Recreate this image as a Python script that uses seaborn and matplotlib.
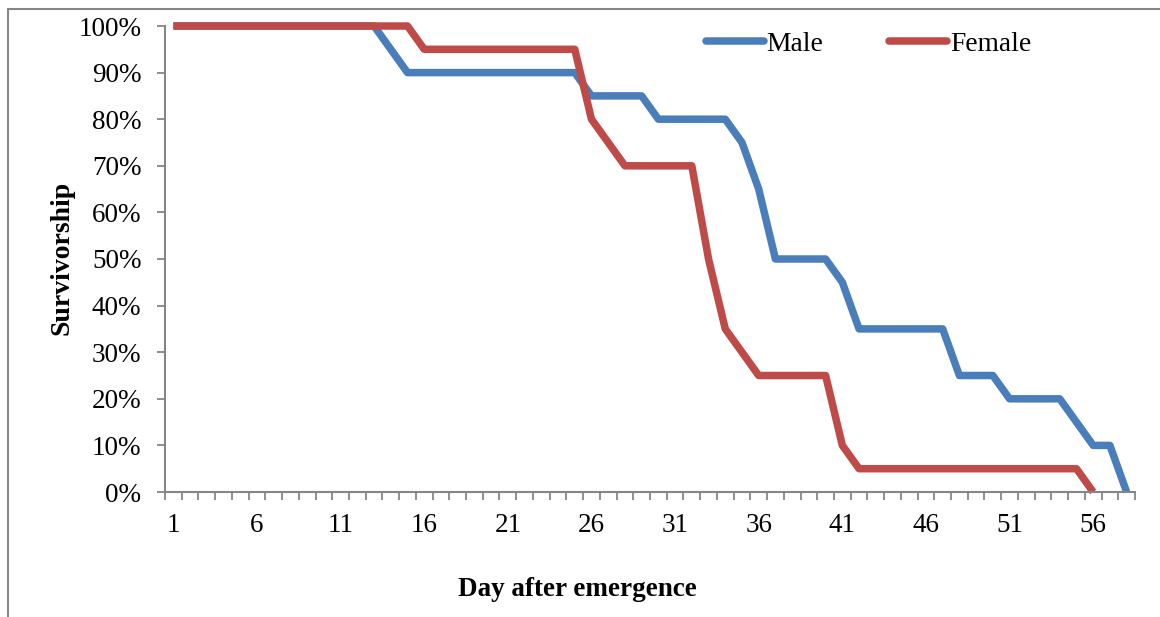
import numpy as np
import pandas as pd
import matplotlib
matplotlib.use("Agg")
import matplotlib.pyplot as plt
import seaborn as sns
from matplotlib.ticker import FixedLocator, PercentFormatter
from matplotlib.lines import Line2D
from matplotlib.patches import Rectangle

# Survivorship by day after emergence (fraction alive)
days_male = list(range(1, 59))
male = [1.00] * 13 + [0.95] + [0.90] * 11 + [0.85] * 4 + [0.80] * 5 + \
       [0.75, 0.65] + [0.50] * 4 + [0.45] + [0.35] * 6 + [0.25] * 3 + \
       [0.20] * 4 + [0.15, 0.10, 0.10, 0.00]

days_female = list(range(1, 57))
female = [1.00] * 15 + [0.95] * 10 + [0.80, 0.75] + [0.70] * 5 + \
         [0.50, 0.35, 0.30] + [0.25] * 5 + [0.10] + [0.05] * 14 + [0.00]

series_names = ["Male", "Female"]
series_colors = ["#4A7EBB", "#BE4B48"]
x_tick_labels = list(range(1, 57, 5))
y_ticks = [i / 10 for i in range(11)]

df = pd.concat([
    pd.DataFrame({"Day": days_male, "Survivorship": male, "Sex": "Male"}),
    pd.DataFrame({"Day": days_female, "Survivorship": female, "Sex": "Female"}),
], ignore_index=True)

sns.set_theme(style="white")
plt.rcParams["font.family"] = ["Liberation Serif", "DejaVu Serif"]
plt.rcParams["text.color"] = "black"
plt.rcParams["xtick.labelcolor"] = "black"
plt.rcParams["ytick.labelcolor"] = "black"
FS = 19.5

fig = plt.figure(figsize=(11.6, 6.17), dpi=100)
ax = fig.add_axes([165 / 1160, 1 - 492 / 617, 970 / 1160, 466 / 617])

sns.lineplot(data=df, x="Day", y="Survivorship", hue="Sex",
             hue_order=series_names, palette=series_colors,
             linewidth=5.4, ax=ax, legend=False)
for ln in ax.lines:
    ln.set_solid_joinstyle("round")
    ln.set_solid_capstyle("butt")
    ln.set_clip_on(False)

axis_gray = "#868686"
ax.set_xlim(0.5, 58.5)
ax.set_ylim(0, 1)
for side in ["top", "right"]:
    ax.spines[side].set_visible(False)
for side in ["left", "bottom"]:
    ax.spines[side].set_color(axis_gray)
    ax.spines[side].set_linewidth(1.5)

ax.yaxis.set_major_locator(FixedLocator(y_ticks))
ax.yaxis.set_major_formatter(PercentFormatter(1.0, decimals=0))
ax.tick_params(axis="y", direction="out", length=6, width=1.3,
               color=axis_gray, labelcolor="black", labelsize=FS, pad=11,
               left=True)

# labels sit on the categories, tick marks between categories
ax.xaxis.set_major_locator(FixedLocator(x_tick_labels))
ax.set_xticklabels([str(v) for v in x_tick_labels])
ax.tick_params(axis="x", which="major", length=0, labelsize=FS,
               labelcolor="black", pad=15)
ax.xaxis.set_minor_locator(FixedLocator(np.arange(0.5, 59, 1.0)))
ax.tick_params(axis="x", which="minor", direction="out", length=6,
               width=1.3, color=axis_gray, bottom=True)
ax.grid(False)

ax.set_xlabel("")
ax.set_ylabel("")
fig.text(577 / 1160, 1 - 590 / 617, "Day after emergence", ha="center",
         va="center", fontsize=FS, fontweight="bold", color="black")
fig.text(62 / 1160, 1 - 258 / 617, "Survivorship", ha="center",
         va="center", rotation=90, fontsize=FS + 0.5, fontweight="bold",
         color="black")

handles = [Line2D([], [], color=c, linewidth=5.4, solid_capstyle="round")
           for c in series_colors]
leg = fig.legend(handles, series_names, loc="center left", ncol=2,
                 frameon=False, bbox_to_anchor=(706 / 1160, 1 - 44 / 617),
                 fontsize=FS + 0.3, handlelength=2.1, handletextpad=0.1,
                 columnspacing=2.4, borderaxespad=0, borderpad=0)
for t in leg.get_texts():
    t.set_color("black")

# chart frame
fig.patches.append(Rectangle((8 / 1160, -0.05), 1.2, 1 - 9 / 617 + 0.05,
                             transform=fig.transFigure, fill=False,
                             edgecolor=axis_gray, linewidth=1.5))

fig.savefig("out.png", dpi=100)
